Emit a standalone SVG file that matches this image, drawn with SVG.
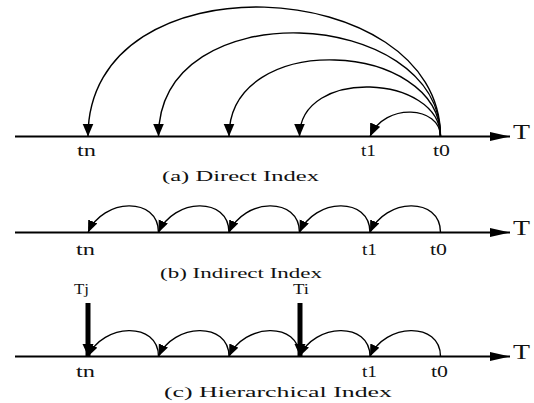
<svg xmlns="http://www.w3.org/2000/svg" width="534" height="403" viewBox="0 0 534 403">
<style>
  .axis{stroke:#000;stroke-width:1.8;fill:none}
  .arc{stroke:#000;stroke-width:1.4;fill:none}
  .bar{stroke:#000;stroke-width:5;fill:none}
  text{font-family:"Liberation Serif","Times New Roman",serif;fill:#111}
  .lbl{font-size:16px}
  .cap{font-size:15.5px}
  .tt{font-size:15.5px}
  .big{font-size:21px}
</style>
<defs>
  <marker id="axhead" markerUnits="userSpaceOnUse" markerWidth="22" markerHeight="12" refX="20" refY="5" orient="auto">
    <path d="M0,0.5 L20,5 L0,9.5 Z" fill="#000"/>
  </marker>
  <marker id="ahA" markerUnits="userSpaceOnUse" markerWidth="14" markerHeight="12" refX="13" refY="5.5" orient="auto">
    <path d="M0,0 L13,5.5 L0,11 Z" fill="#000"/>
  </marker>
  <marker id="ahB" markerUnits="userSpaceOnUse" markerWidth="13" markerHeight="11" refX="12" refY="5" orient="auto">
    <path d="M0,0 L12,5 L0,10 Z" fill="#000"/>
  </marker>
  <marker id="ahBar" markerUnits="userSpaceOnUse" markerWidth="14" markerHeight="12" refX="12" refY="5.5" orient="auto">
    <path d="M0,0 L12,5.5 L0,11 Z" fill="#000"/>
  </marker>
</defs>

<g id="connectors">
  <!-- axes -->
  <path class="axis" d="M15,136.5 H510" marker-end="url(#axhead)"/>
  <path class="axis" d="M15,232.5 H510" marker-end="url(#axhead)"/>
  <path class="axis" d="M15,356.5 H510" marker-end="url(#axhead)"/>
  <!-- (a) direct arcs -->
  <path class="arc" d="M440.5,136.5 C440.5,-26 88,-46 88,136.5" marker-end="url(#ahA)"/>
  <path class="arc" d="M440.5,136.5 C440.5,6.5 158.5,-9.5 158.5,136.5" marker-end="url(#ahA)"/>
  <path class="arc" d="M440.5,136.5 C440.5,40.5 229,28.5 229,136.5" marker-end="url(#ahA)"/>
  <path class="arc" d="M440.5,136.5 C440.5,74.5 299.5,66.5 299.5,136.5" marker-end="url(#ahA)"/>
  <path class="arc" d="M440.5,136.5 C440.5,106 385,102 370,136.5" marker-end="url(#ahA)"/>
  <!-- (b) indirect arcs -->
  <path class="arc" d="M440.5,232.5 C440.5,196 385,198 370,232.5" marker-end="url(#ahB)"/>
  <path class="arc" d="M370,232.5 C370,196 314.5,198 299.5,232.5" marker-end="url(#ahB)"/>
  <path class="arc" d="M299.5,232.5 C299.5,196 244,198 229,232.5" marker-end="url(#ahB)"/>
  <path class="arc" d="M229,232.5 C229,196 173.5,198 158.5,232.5" marker-end="url(#ahB)"/>
  <path class="arc" d="M158.5,232.5 C158.5,196 103,198 88,232.5" marker-end="url(#ahB)"/>
  <!-- (c) hierarchical arcs -->
  <path class="arc" d="M440.5,356.5 C440.5,321 385,323 370,356.5" marker-end="url(#ahB)"/>
  <path class="arc" d="M370,356.5 C370,321 314.5,323 299.5,356.5" marker-end="url(#ahB)"/>
  <path class="arc" d="M299.5,356.5 C299.5,321 244,323 229,356.5" marker-end="url(#ahB)"/>
  <path class="arc" d="M229,356.5 C229,321 173.5,323 158.5,356.5" marker-end="url(#ahB)"/>
  <path class="arc" d="M158.5,356.5 C158.5,321 103,323 88,356.5" marker-end="url(#ahB)"/>
  <!-- (c) thick level arrows -->
  <path class="bar" d="M88,303 V356" marker-end="url(#ahBar)"/>
  <path class="bar" d="M300,303 V356" marker-end="url(#ahBar)"/>
</g>

<g id="panel-a">
  <text class="lbl" x="77" y="156" textLength="19" lengthAdjust="spacingAndGlyphs">tn</text>
  <text class="lbl" x="361" y="156" textLength="15" lengthAdjust="spacingAndGlyphs">t1</text>
  <text class="lbl" x="433" y="156" textLength="17" lengthAdjust="spacingAndGlyphs">t0</text>
  <text class="big" x="513" y="138.5" textLength="17" lengthAdjust="spacingAndGlyphs">T</text>
  <text class="cap" x="162" y="180.5" textLength="157" lengthAdjust="spacingAndGlyphs">(a) Direct Index</text>
</g>

<g id="panel-b">
  <text class="lbl" x="76" y="255" textLength="19" lengthAdjust="spacingAndGlyphs">tn</text>
  <text class="lbl" x="362" y="255" textLength="15" lengthAdjust="spacingAndGlyphs">t1</text>
  <text class="lbl" x="430" y="255" textLength="17" lengthAdjust="spacingAndGlyphs">t0</text>
  <text class="big" x="513" y="234.5" textLength="17" lengthAdjust="spacingAndGlyphs">T</text>
  <text class="cap" x="160" y="278" textLength="162" lengthAdjust="spacingAndGlyphs">(b) Indirect Index</text>
</g>

<g id="panel-c">
  <text class="tt" x="74" y="293.5" textLength="15" lengthAdjust="spacingAndGlyphs">Tj</text>
  <text class="tt" x="293" y="293.5" textLength="16" lengthAdjust="spacingAndGlyphs">Ti</text>
  <text class="lbl" x="76" y="376.5" textLength="19" lengthAdjust="spacingAndGlyphs">tn</text>
  <text class="lbl" x="362" y="376.5" textLength="15" lengthAdjust="spacingAndGlyphs">t1</text>
  <text class="lbl" x="431" y="376.5" textLength="17" lengthAdjust="spacingAndGlyphs">t0</text>
  <text class="big" x="513" y="358.5" textLength="17" lengthAdjust="spacingAndGlyphs">T</text>
  <text class="cap" x="164" y="396.5" textLength="228" lengthAdjust="spacingAndGlyphs">(c) Hierarchical Index</text>
</g>
</svg>
